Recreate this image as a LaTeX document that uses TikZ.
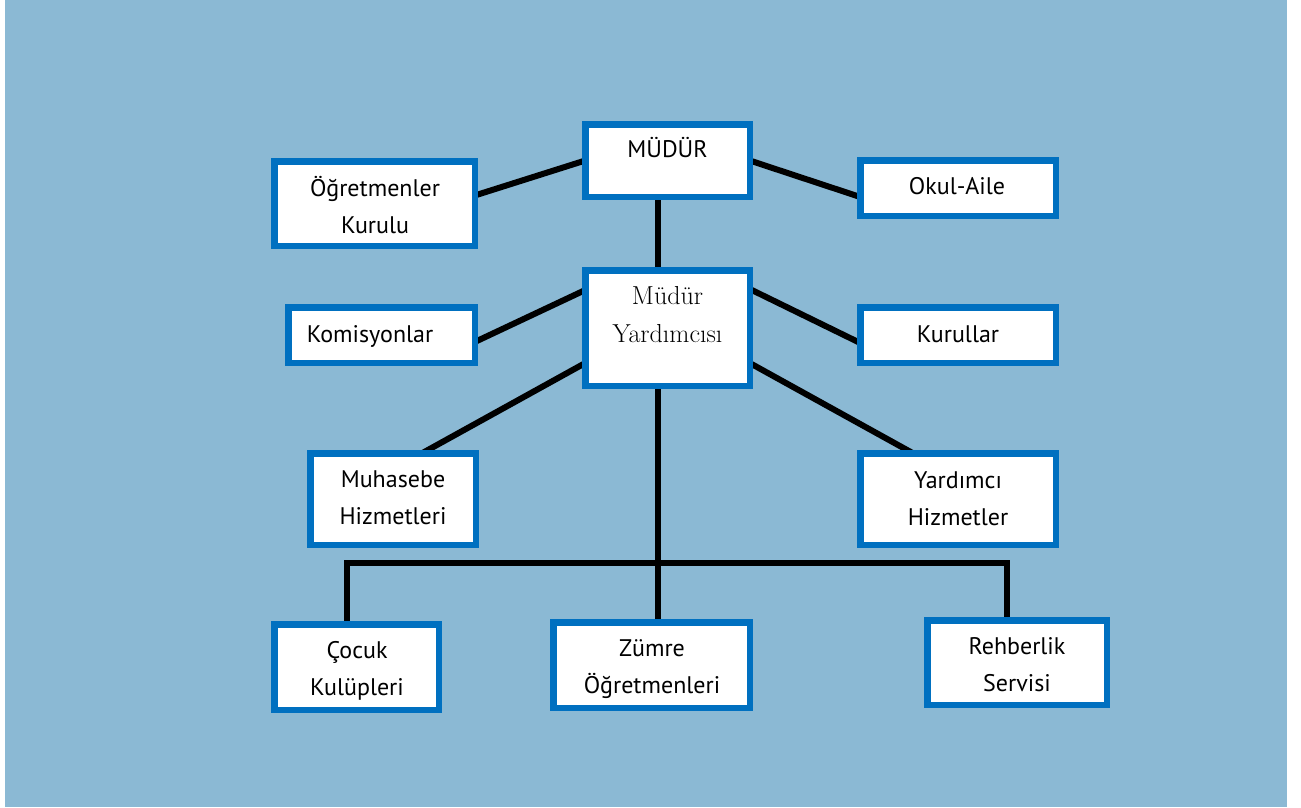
\documentclass[tikz,border=0pt]{standalone}
\usepackage{fontspec}
\setmainfont{PT Sans}
\newfontfamily\serifface{Latin Modern Roman}
\usetikzlibrary{calc}
\definecolor{bgblue}{RGB}{139,185,212}
\definecolor{boxblue}{RGB}{0,112,192}
\pgfdeclarelayer{bg}
\pgfdeclarelayer{conn}
\pgfsetlayers{bg,conn,main}
\tikzset{
  box/.style={draw=boxblue, fill=white, line width=6.5pt, rectangle, inner sep=0pt, outer sep=0pt},
  lbl/.style={font=\fontsize{24}{37}\selectfont, align=center, inner sep=0pt, anchor=base},
  conn/.style={line width=6pt, black}
}
\begin{document}
\begin{tikzpicture}[x=1pt, y=-1pt]
\begin{pgfonlayer}{bg}
\useasboundingbox (0,0) rectangle (1301,807);
\fill[bgblue] (5,0) rectangle (1287,807);
\end{pgfonlayer}
% boxes
\node[box, minimum width=164.5pt, minimum height=72.5pt] (mudur) at (667.5,160.5) {};
\node[box, minimum width=164.5pt, minimum height=115.5pt] (my) at (667.5,328) {};
\node[box, minimum width=200.5pt, minimum height=84.5pt] (ogret) at (374.5,203.5) {};
\node[box, minimum width=186.5pt, minimum height=55.5pt] (komis) at (381.5,335) {};
\node[box, minimum width=195.5pt, minimum height=55.5pt] (okul) at (958,188) {};
\node[box, minimum width=195.5pt, minimum height=55.5pt] (kurul) at (958,335) {};
\node[box, minimum width=165.5pt, minimum height=91.5pt] (muh) at (393,499) {};
\node[box, minimum width=195.5pt, minimum height=91.5pt] (yard) at (958,499) {};
\node[box, minimum width=164.5pt, minimum height=85.5pt] (cocuk) at (356.5,667) {};
\node[box, minimum width=196.5pt, minimum height=85.5pt] (zumre) at (651.5,665) {};
\node[box, minimum width=179.5pt, minimum height=84.5pt] (rehber) at (1017,662.5) {};
% labels (base = last line's baseline)
\node[lbl] (mudurT) at (667.5,157) {MÜDÜR};
\node[lbl, font=\serifface\fontsize{26}{38}\selectfont] (myT) at (667.5,342) {Müdür\\Yardımcısı};
\node[lbl] (ogretT) at (375,233) {Öğretmenler\\Kurulu};
\node[lbl] (komisT) at (370,342) {Komisyonlar};
\node[lbl] (okulT) at (957,194) {Okul-Aile};
\node[lbl] (kurulT) at (958,342) {Kurullar};
\node[lbl] (muhT) at (393,524) {Muhasebe\\Hizmetleri};
\node[lbl] (yardT) at (958,525) {Yardımcı\\Hizmetler};
\node[lbl] (cocukT) at (357,695) {Çocuk\\Kulüpleri};
\node[lbl] (zumreT) at (652,693) {Zümre\\Öğretmenleri};
\node[lbl] (rehberT) at (1017,691) {Rehberlik\\Servisi};
\coordinate (bus) at (658,563);
% connectors
\begin{pgfonlayer}{conn}
\draw[conn] ($(mudur.south)+(-9.5,0)$) -- ($(my.north)+(-9.5,0)$);
\draw[conn] ($(ogret.east)+(0,-8)$) -- (mudur.west);
\draw[conn] ($(okul.west)+(0,9)$) -- (mudur.east);
\draw[conn] ($(komis.east)+(0,7)$) -- ($(my.west)+(0,-38)$);
\draw[conn] ($(kurul.west)+(0,8)$) -- ($(my.east)+(0,-39)$);
\draw[conn] ($(muh.north)+(29,0)$) -- ($(my.west)+(0,35)$);
\draw[conn] ($(yard.north)+(-45,0)$) -- ($(my.east)+(0,35)$);
\draw[conn] ($(my.south)+(-9.5,0)$) -- ($(zumre.north)+(6.5,0)$);
\draw[conn] ($(cocuk.north)+(-9.5,0)$) |- (bus) -| ($(rehber.north)+(-10,0)$);
\end{pgfonlayer}
\end{tikzpicture}
\end{document}
